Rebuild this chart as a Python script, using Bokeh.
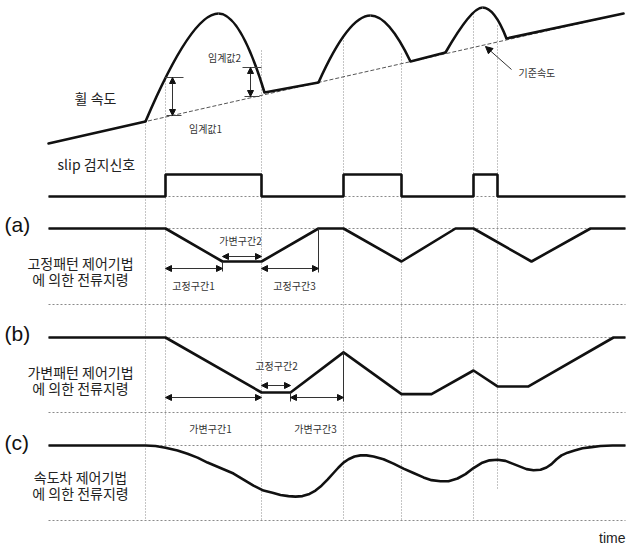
from bokeh.plotting import figure
from bokeh.models import Range1d, Arrow, NormalHead, ColumnDataSource
from bokeh.embed import file_html
from bokeh.resources import INLINE
from bokeh.core.properties import value

KFONT = "Noto Sans CJK KR"
INK = "#111111"
GUIDE = "#8a8a8a"

# ---------------- data ----------------
# common time marks
t_first, t_last = 48, 625
slip_on = [165, 343, 473]
slip_off = [261, 401, 497]

# wheel speed (speed units measured upward from the panel floor)
base_t = [48, 623]              # reference (vehicle) speed line
base_v = [0, 130]
grip_t0 = [48, 264, 410, 506]   # wheel riding on the reference speed
grip_v0 = [0, 51, 82, 105]
grip_t1 = [145, 318, 445, 623]
grip_v1 = [22, 61, 91, 130]
hump_t0 = [145, 318, 445]       # slip humps: start, peak, end
hump_v0 = [22, 61, 91]
hump_tp = [218, 370, 482]
hump_vp = [130, 128, 136]
hump_t1 = [264, 410, 506]
hump_v1 = [51, 82, 105]
rise_ct = [191, 348, 471]       # control abscissae of the rising / falling flanks
fall_ct = [240, 388, 494]
thr_t = [172, 250]              # threshold 1 / threshold 2
thr_hi = [66, 76]
thr_lo = [28, 47]

# slip detection signal (0 = off, 1 = on)
slip_t = [48, 165, 165, 261, 261, 343, 343, 401, 401, 473, 473, 497, 497, 625]
slip_s = [0, 0, 1, 1, 0, 0, 1, 1, 0, 0, 1, 1, 0, 0]

# (a) fixed-pattern current command
a_t = [48, 165, 222, 261, 318, 343, 401, 455, 473, 531, 590, 625]
a_i = [0, 0, -1, -1, 0, 0, -1, 0, 0, -1, 0, 0]

# (b) variable-pattern current command
b_t = [48, 165, 261, 290, 343, 401, 431, 473, 497, 528, 613, 625]
b_i = [0, 0, -1.0, -1.0, -0.27, -1.03, -1.03, -0.6, -0.89, -0.89, 0, 0]

# (c) speed-difference current command
c_t = [48, 145, 155, 165, 177, 187, 197, 207, 220, 233,
       243, 253, 263, 272, 280, 288, 295, 302, 309, 315,
       321, 327, 333, 338, 343, 348, 354, 360, 366, 373,
       383, 393, 403, 413, 423, 431, 440, 448, 457, 465,
       473, 481, 489, 497, 505, 512, 519, 526, 533, 540,
       546, 551, 556, 561, 567, 574, 582, 591, 600, 612,
       625]
c_i = [0, 0, -0.01, -0.04, -0.09, -0.15, -0.22, -0.31, -0.41, -0.51,
       -0.62, -0.73, -0.82, -0.86, -0.9, -0.92, -0.93, -0.92, -0.88, -0.82,
       -0.73, -0.62, -0.5, -0.4, -0.31, -0.25, -0.2, -0.18, -0.18, -0.2,
       -0.25, -0.33, -0.42, -0.5, -0.58, -0.63, -0.65, -0.65, -0.6, -0.52,
       -0.41, -0.32, -0.27, -0.26, -0.28, -0.33, -0.38, -0.43, -0.45, -0.44,
       -0.4, -0.34, -0.25, -0.18, -0.13, -0.09, -0.05, -0.03, -0.01, 0,
       0]

# ---------------- layout of the panels ----------------
WHEEL_FLOOR = 143
SLIP_BASE, SLIP_AMP = 196, 22
A_BASE, A_AMP = 228, 33
B_BASE, B_AMP = 337, 55
C_BASE, C_AMP = 445, 55
FLOORS = [304, 412, 520]


def wy(v):
    return [WHEEL_FLOOR - x for x in v]


def py(base, amp, vals):
    return [base - amp * x for x in vals]


W, H = 635, 544
p = figure(width=W, height=H, x_range=Range1d(0, W), y_range=Range1d(H, 0),
           x_axis_type=None, y_axis_type=None, output_backend="svg",
           toolbar_location=None, min_border=0)
p.grid.visible = False
p.outline_line_color = None
p.background_fill_color = "white"
p.border_fill_color = "white"

# ---- guide lines (thin dotted) ----
h_y = [SLIP_BASE, A_BASE, B_BASE, C_BASE] + FLOORS
p.segment(x0=[t_first] * len(h_y), x1=[t_last] * len(h_y), y0=h_y, y1=h_y,
          line_color=GUIDE, line_width=1, line_dash="2 2")
v_x = [145, 165, 261, 343, 401, 473, 497]
v_top = [121, 77, 50, 37, 53, 13, 25]
v_bot = [520, 447, 520, 520, 520, 520, 490]
p.segment(x0=v_x, x1=v_x, y0=v_top, y1=v_bot,
          line_color=GUIDE, line_width=1, line_dash="1 2")

# reference speed line under the humps
p.line(base_t, wy(base_v), line_color="#555555", line_width=1, line_dash="4 2")

# ---- wheel speed ----
p.segment(x0=grip_t0, y0=wy(grip_v0), x1=grip_t1, y1=wy(grip_v1),
          line_color=INK, line_width=2.6, line_cap="round")
p.quadratic(x0=hump_t0, y0=wy(hump_v0), x1=hump_tp, y1=wy(hump_vp),
            cx=rise_ct, cy=wy(hump_vp), line_color=INK, line_width=2.6)
p.quadratic(x0=hump_tp, y0=wy(hump_vp), x1=hump_t1, y1=wy(hump_v1),
            cx=fall_ct, cy=wy(hump_vp), line_color=INK, line_width=2.6)

# threshold markers
thr_y_hi = wy(thr_hi)
thr_y_lo = wy(thr_lo)
p.segment(x0=[t - 8 for t in thr_t], x1=[t + 11 for t in thr_t],
          y0=thr_y_hi, y1=thr_y_hi, line_color="#444444", line_width=1)
p.segment(x0=[t - 6 for t in thr_t], x1=[t + 9 for t in thr_t],
          y0=thr_y_lo, y1=thr_y_lo, line_color="#444444", line_width=1)

# ---- slip signal ----
p.line(slip_t, py(SLIP_BASE, SLIP_AMP, slip_s), line_color=INK, line_width=2.6)

# ---- current commands ----
p.line(a_t, py(A_BASE, A_AMP, a_i), line_color=INK, line_width=2.6, line_join="round")
p.line(b_t, py(B_BASE, B_AMP, b_i), line_color=INK, line_width=2.6, line_join="round")
p.line(c_t, py(C_BASE, C_AMP, c_i), line_color=INK, line_width=2.6, line_join="round")

# interval end ticks
p.segment(x0=[318, 222, 290, 343], x1=[318, 222, 290, 343],
          y0=[228, 261, 392, 352], y1=[272, 271, 401, 401],
          line_color="#333333", line_width=1)

# ---- double-headed interval arrows ----
arr = ColumnDataSource(dict(
    x0=[222, 165, 261, 261, 165, 290] + thr_t,
    x1=[261, 222, 318, 290, 261, 343] + thr_t,
    y0=[256, 268, 268, 385, 397, 397] + thr_y_hi,
    y1=[256, 268, 268, 385, 397, 397] + thr_y_lo,
))
p.add_layout(Arrow(source=arr, x_start="x0", y_start="y0", x_end="x1", y_end="y1",
                   line_color="#333333", line_width=1,
                   start=NormalHead(size=6, fill_color=INK, line_color=INK),
                   end=NormalHead(size=6, fill_color=INK, line_color=INK)))

# pointer to the reference speed
p.add_layout(Arrow(x_start=511, y_start=69, x_end=485, y_end=46,
                   line_color="#333333", line_width=1,
                   end=NormalHead(size=7, fill_color=INK, line_color=INK)))

# ---- texts ----
big = ColumnDataSource(dict(
    x=[95, 80, 80, 80, 80, 80, 80],
    y=[97, 262, 278, 371, 387, 476, 492],
    t=["휠 속도", "고정패턴 제어기법", "에 의한 전류지령",
       "가변패턴 제어기법", "에 의한 전류지령",
       "속도차 제어기법", "에 의한 전류지령"],
))
p.text(x="x", y="y", text="t", source=big, text_font=value(KFONT),
       text_font_size="14px", text_align="center", text_baseline="middle",
       text_color="#222222")

p.text(x=[57], y=[163], text=["slip 검지신호"], text_font=value(KFONT),
       text_font_size="14px", text_align="left", text_baseline="middle",
       text_color="#222222")

p.text(x=[4, 4, 4], y=[224, 333, 442], text=["(a)", "(b)", "(c)"],
       text_font=value("Liberation Sans"), text_font_size="21px",
       text_align="left", text_baseline="middle", text_color="#111111")

small = ColumnDataSource(dict(
    x=[224, 205, 240, 193, 294, 276, 210, 315],
    y=[57, 128, 240, 285, 285, 365, 428, 428],
    t=["임계값2", "임계값1", "가변구간2", "고정구간1", "고정구간3",
       "고정구간2", "가변구간1", "가변구간3"],
))
p.text(x="x", y="y", text="t", source=small, text_font=value(KFONT),
       text_font_size="10px", text_align="center", text_baseline="middle",
       text_color="#333333")

p.text(x=[518], y=[72], text=["기준속도"], text_font=value(KFONT),
       text_font_size="10px", text_align="left", text_baseline="middle",
       text_color="#333333")

p.text(x=[625], y=[537], text=["time"], text_font=value("Liberation Sans"),
       text_font_size="14px", text_align="right", text_baseline="middle",
       text_color="#222222")

open("out.html", "w").write(file_html(p, INLINE))
